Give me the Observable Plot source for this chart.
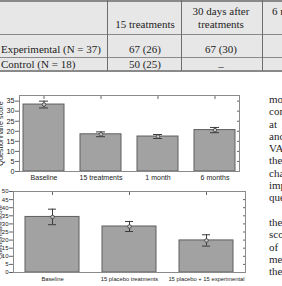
<!DOCTYPE html>
<html>
<head>
<meta charset="utf-8">
<script src="https://cdn.jsdelivr.net/npm/d3@7"></script>
<script src="https://cdn.jsdelivr.net/npm/@observablehq/plot@0.6"></script>
<style>
  html, body { margin: 0; padding: 0; background: #fff; }
  #page { position: relative; width: 282px; height: 286px; overflow: hidden; font-family: "Liberation Serif", "Times New Roman", "DejaVu Serif", serif; color: #1e1e1e; }
  .tbl { position: absolute; left: 0; top: 0; width: 282px; height: 71px; background: #e7e7e7; }
  .hl { position: absolute; left: 0; width: 282px; height: 1.5px; background: #8a8a8a; }
  .vl { position: absolute; top: 0; width: 1px; height: 71px; background: #6e6e6e; }
  .cell { position: absolute; font-size: 11px; line-height: 12px; white-space: nowrap; transform: translateY(-50%); }
  .c { transform: translate(-50%, -50%); }
  .prose { position: absolute; left: 269px; top: 93px; font-size: 11px; line-height: 12.3px; white-space: nowrap; }
  .chart { position: absolute; left: 0; }
</style>
</head>
<body>
<div id="page"></div>
<script>
// Table: mean (SD) improvement by group
const colHeaders = [["15 treatments"], ["30 days after", "treatments"], ["6 months after", "treatments"]];
const rowLabels = ["Experimental (N = 37)", "Control (N = 18)"];
const experimentalCells = ["67 (26)", "67 (30)"];
const controlCells = ["50 (25)", "_"];

// Experimental group questionnaire score over time
const phases = ["Baseline", "15 treatments", "1 month", "6 months"];
const phaseMeans = [33.3, 18.5, 17.4, 20.6];
const phaseErrors = [1.7, 1.2, 1.0, 1.3];

// Control group: placebo then experimental treatment
const controlPhases = ["Baseline", "15 placebo treatments", "15 placebo + 15 experimental"];
const controlMeans = [34.3, 28.4, 19.8];
const controlErrors = [4.8, 3.1, 3.5];

// Body text running beside the figures
const proseLines = ["more", "compared", "at", "and", "VAS", "the", "change", "improvement", "questionnaire", "", "the", "scores", "of", "mean", "the"];

const page = document.getElementById("page");

// ---- table ----
const tbl = document.createElement("div");
tbl.className = "tbl";
page.appendChild(tbl);
for (const y of [0, 33.5, 56.5, 70]) {
  const l = document.createElement("div");
  l.className = "hl"; l.style.top = y + "px"; tbl.appendChild(l);
}
for (const x of [107, 181, 262]) {
  const l = document.createElement("div");
  l.className = "vl"; l.style.left = x + "px"; tbl.appendChild(l);
}
function cell(text, x, y, centered) {
  const d = document.createElement("div");
  d.className = centered ? "cell c" : "cell";
  d.style.left = x + "px"; d.style.top = y + "px";
  d.textContent = text;
  tbl.appendChild(d);
}
const colCenters = [145, 221];
colHeaders.slice(0, 2).forEach((lines, i) => {
  const y0 = lines.length === 1 ? 24 : 11;
  lines.forEach((t, j) => cell(t, colCenters[i], y0 + j * 13, true));
});
cell(colHeaders[2][0], 272, 11, false);
cell(rowLabels[0], 1, 49, false);
cell(rowLabels[1], 1, 63.5, false);
experimentalCells.forEach((t, i) => cell(t, colCenters[i], 49, true));
controlCells.forEach((t, i) => cell(t, colCenters[i], i === 1 ? 62 : 63.5, true));

// ---- bar charts ----
const sans = "'Liberation Sans', Arial, sans-serif";

function barChart({cats, means, errs, top, width, height, margins, yMax, yTicks, font, tickFont, pInner, pOuter, capInset, labelOffset}) {
  const data = cats.map((c, i) => ({cat: c, mean: means[i], err: errs[i]}));
  const svg = Plot.plot({
    width, height,
    marginLeft: margins[0], marginRight: margins[1], marginTop: margins[2], marginBottom: margins[3],
    style: {fontFamily: sans, fontSize: font + "px", color: "#222", background: "transparent", overflow: "visible"},
    x: {domain: cats, paddingInner: pInner, paddingOuter: pOuter, label: null},
    y: {domain: [0, yMax], label: null},
    marks: [
      Plot.barY(data, {x: "cat", y: "mean", fill: "#a2a2a2", stroke: "#5e5e5e", strokeWidth: 1}),
      Plot.ruleX(data, {x: "cat", y1: d => d.mean - d.err, y2: d => d.mean + d.err, stroke: "#3c3c3c", strokeWidth: 1}),
      Plot.tickY(data, {x: "cat", y: d => d.mean + d.err, insetLeft: capInset, insetRight: capInset, stroke: "#3c3c3c"}),
      Plot.tickY(data, {x: "cat", y: d => d.mean - d.err, insetLeft: capInset, insetRight: capInset, stroke: "#3c3c3c"}),
      Plot.dot(data, {x: "cat", y: "mean", r: 1.8, stroke: "#3c3c3c", fill: "#c8c8c8", strokeWidth: 0.8}),
      Plot.axisY({ticks: yTicks, tickSize: 4, tickPadding: 1, fontSize: tickFont, stroke: "#666",
        label: "Questionnaire score", labelAnchor: "center", labelOffset, labelArrow: "none"}),
      Plot.axisY({anchor: "right", ticks: yTicks, tickSize: -3, tickFormat: () => "", stroke: "#666", label: null}),
      Plot.axisX({anchor: "top", tickSize: -3, tickFormat: () => "", stroke: "#666", label: null}),
      Plot.axisX({tickSize: 0, tickPadding: 4, fontSize: font, label: null}),
      Plot.frame({stroke: "#8a8a8a"})
    ]
  });
  svg.classList.add("chart");
  svg.style.top = top + "px";
  page.appendChild(svg);
}

barChart({
  cats: phases, means: phaseMeans, errs: phaseErrors,
  top: 90, width: 245, height: 95, margins: [19, 6, 5, 14],
  yMax: 37.8, yTicks: d3.range(0, 36, 5), font: 7, tickFont: 7.2,
  pInner: 0.285, pOuter: 0.065, capInset: 16, labelOffset: 22
});

barChart({
  cats: controlPhases, means: controlMeans, errs: controlErrors,
  top: 185, width: 250, height: 101, margins: [13, 5, 6, 14],
  yMax: 50, yTicks: d3.range(0, 51, 5), font: 5.8, tickFont: 6,
  pInner: 0.3, pOuter: 0.14, capInset: 23, labelOffset: 16
});

// ---- prose column ----
const prose = document.createElement("div");
prose.className = "prose";
prose.innerHTML = proseLines.map(t => t === "" ? "&nbsp;" : t).join("<br>");
page.appendChild(prose);
</script>
</body>
</html>
